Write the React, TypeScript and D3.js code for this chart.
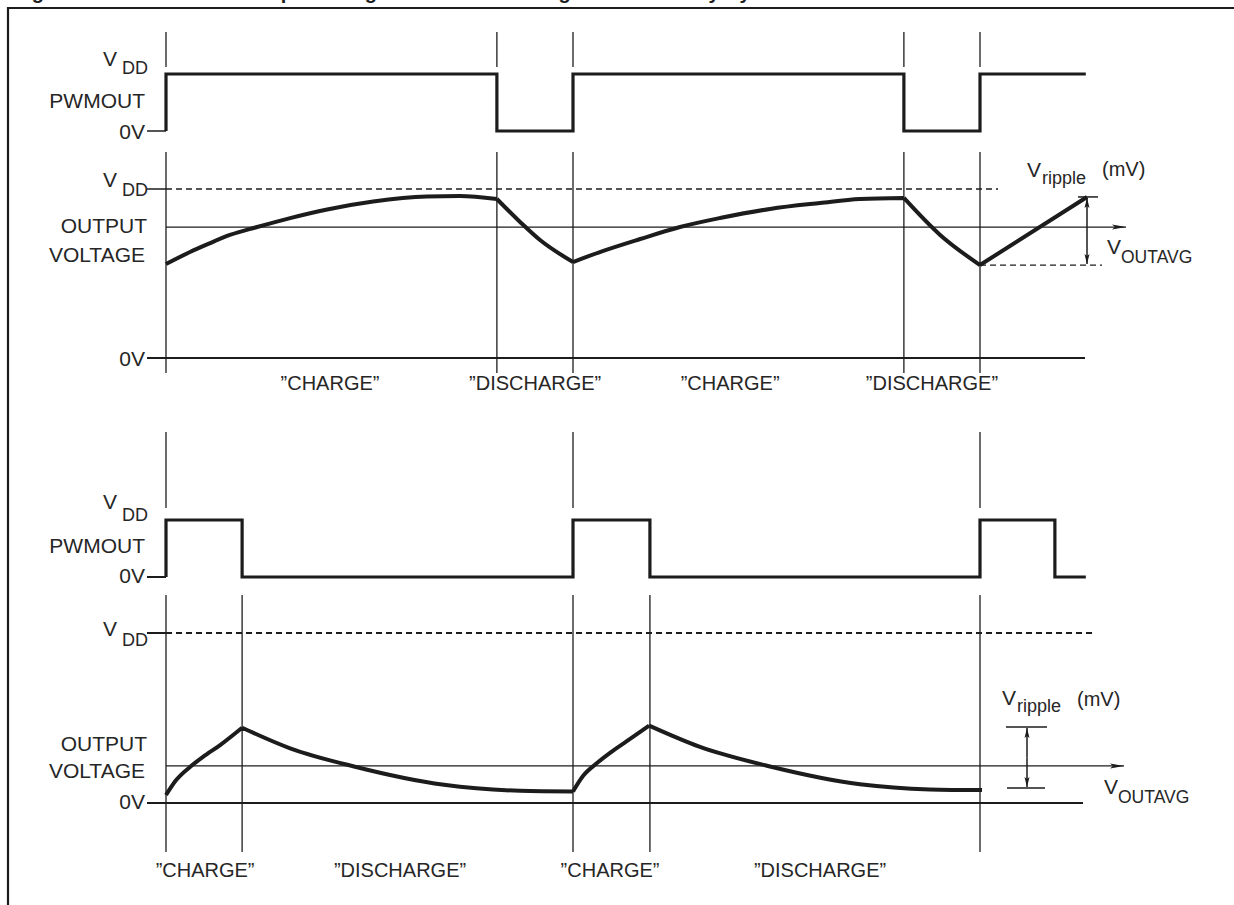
import React from 'react';
import * as d3 from 'd3';

const W = 1234;
const H = 905;

// ---- data (time: one PWM period = 100 units, level: fraction of VDD) ----
const topPwmT = [0, 0, 81.3, 100, 181.3, 200, 226];
const topPwmV = [0, 1, 0, 1, 0, 1, 1];
const botPwmT = [0, 0, 18.7, 100, 118.9, 200, 218.4, 226];
const botPwmV = [0, 1, 0, 1, 0, 1, 0, 0];

const topEdgesT = [0, 81.3, 100, 181.3, 200];
const botPwmTicksT = [0, 100, 200];
const botEdgesT = [0, 18.7, 100, 118.9, 200];

// top output voltage (high duty cycle), one array per charge / discharge phase
const topCharge1 = [[0, 0.556], [5.9, 0.627], [10.1, 0.672], [15.7, 0.728], [22.4, 0.775], [30.5, 0.828], [39.6, 0.879], [50.9, 0.926], [64.1, 0.956], [72.2, 0.959], [81.3, 0.941]];
const topDischarge1 = [[81.3, 0.941], [87.0, 0.805], [91.9, 0.698], [100, 0.568]];
const topCharge2 = [[100, 0.568], [106.6, 0.627], [116.5, 0.704], [126.3, 0.775], [136.1, 0.828], [148.4, 0.882], [160.7, 0.917], [170.5, 0.941], [181.3, 0.947]];
const topDischarge2 = [[181.3, 0.947], [190.2, 0.728], [200, 0.55]];
const topCharge3 = [[200, 0.55], [226.3, 0.953]];

// bottom output voltage (low duty cycle)
const botCharge1 = [[0, 0.047], [2.5, 0.135], [5.9, 0.212], [9.1, 0.271], [13.3, 0.341], [18.7, 0.443]];
const botDischarge1 = [[18.7, 0.443], [30.5, 0.322], [46.2, 0.215], [68.3, 0.107], [87.0, 0.072], [100, 0.068]];
const botCharge2 = [[100, 0.068], [102.5, 0.16], [105.9, 0.235], [109.1, 0.295], [113.3, 0.365], [118.7, 0.455]];
const botDischarge2 = [[118.7, 0.455], [131.2, 0.33], [148.4, 0.215], [170.5, 0.11], [187.7, 0.08], [200.5, 0.076]];

const topAvg = 0.775;
const botAvg = 0.218;
const topRipple = [0.55, 0.953];
const botRipple = [0.088, 0.447];

const topPhaseLabels = ['\u201DCHARGE\u201D', '\u201DDISCHARGE\u201D', '\u201DCHARGE\u201D', '\u201DDISCHARGE\u201D'];
const topPhaseT = [40.3, 90.7, 138.6, 188.2];
const botPhaseLabels = ['\u201DCHARGE\u201D', '\u201DDISCHARGE\u201D', '\u201DCHARGE\u201D', '\u201DDISCHARGE\u201D'];
const botPhaseT = [9.6, 57.5, 109.1, 160.7];

const titleText = 'Figure 10. Filtered PWM Output Voltage Waveforms for High and Low Duty Cycles';

// ---- scales ----
const x = d3.scaleLinear().domain([0, 200]).range([166, 980]);
const yTopPwm = d3.scaleLinear().domain([0, 1]).range([131, 74]);
const yTopOut = d3.scaleLinear().domain([0, 1]).range([358, 189]);
const yBotPwm = d3.scaleLinear().domain([0, 1]).range([577, 520]);
const yBotOut = d3.scaleLinear().domain([0, 1]).range([803, 633]);

const FONT = '"Liberation Sans", Arial, Helvetica, sans-serif';
const INK = '#1c1c1c';
const TXT = '#262626';

function stepPath(ts: number[], vs: number[], y: d3.ScaleLinear<number, number>) {
  const pts = ts.map((t, i) => [t, vs[i]] as [number, number]);
  return d3.line<[number, number]>().x(d => x(d[0])).y(d => y(d[1])).curve(d3.curveStepAfter)(pts) || '';
}

function curvePath(segs: number[][][], y: d3.ScaleLinear<number, number>) {
  const gen = d3.line<number[]>().x(d => x(d[0])).y(d => y(d[1])).curve(d3.curveMonotoneX);
  return segs.map(s => gen(s) || '').join(' ');
}

function VLabel({ xEnd, vy, sub, dy, size = 21, subSize = 18 }: any) {
  return (
    <g fontFamily={FONT} fill={TXT}>
      <text x={xEnd - 44} y={vy} fontSize={size}>V</text>
      <text x={xEnd - 25} y={vy + dy} fontSize={subSize}>{sub}</text>
    </g>
  );
}

export default function App() {
  const tx = (t: number) => x(t);
  return (
    <svg width={W} height={H} viewBox={`0 0 ${W} ${H}`}
      style={{ position: 'absolute', left: 0, top: 0, background: '#fff' }}>
      <defs>
        <marker id="arrAvg" viewBox="0 0 14 6" refX="14" refY="3" markerWidth="14" markerHeight="6"
          markerUnits="userSpaceOnUse" orient="auto">
          <path d="M0,0.5 L14,3 L0,5.5 L3,3 Z" fill={INK} />
        </marker>
        <marker id="arrSmall" viewBox="0 0 10 6" refX="10" refY="3" markerWidth="10" markerHeight="6"
          markerUnits="userSpaceOnUse" orient="auto">
          <path d="M0,0.5 L10,3 L0,5.5 L2,3 Z" fill={INK} />
        </marker>
      </defs>
      <rect x={0} y={0} width={W} height={H} fill="#fff" />

      {/* title (cut off at the top, as in the source) and frame */}
      <text x={14} y={-1.5} fontFamily={FONT} fontWeight="bold" fontSize={20} fill={INK}>{titleText}</text>
      <line x1={8} y1={8} x2={W} y2={8} stroke={INK} strokeWidth={2.2} />
      <line x1={8} y1={7} x2={8} y2={H} stroke={INK} strokeWidth={2.2} />

      {/* ================= TOP: high duty cycle ================= */}
      {topEdgesT.map((t, i) => (
        <line key={'tt' + i} x1={tx(t)} x2={tx(t)} y1={32} y2={67} stroke={INK} strokeWidth={1.3} />
      ))}
      <line x1={147} x2={x(0)} y1={yTopPwm(0)} y2={yTopPwm(0)} stroke={INK} strokeWidth={1.5} />
      <path d={stepPath(topPwmT, topPwmV, yTopPwm)} fill="none" stroke={INK} strokeWidth={3.2} strokeLinejoin="miter" />

      {topEdgesT.map((t, i) => (
        <line key={'to' + i} x1={tx(t)} x2={tx(t)} y1={152} y2={373} stroke={INK} strokeWidth={1.3} />
      ))}
      <line x1={147} x2={x(0)} y1={yTopOut(1)} y2={yTopOut(1)} stroke={INK} strokeWidth={1.5} />
      <line x1={x(0)} x2={998} y1={yTopOut(1)} y2={yTopOut(1)} stroke={INK} strokeWidth={1.3} strokeDasharray="6 4" />
      <line x1={x(0)} x2={1126} y1={yTopOut(topAvg)} y2={yTopOut(topAvg)} stroke={INK} strokeWidth={1.3} markerEnd="url(#arrAvg)" />
      <line x1={147} x2={1085} y1={yTopOut(0)} y2={yTopOut(0)} stroke={INK} strokeWidth={2.2} />
      <line x1={x(200)} x2={1102} y1={yTopOut(topRipple[0])} y2={yTopOut(topRipple[0])} stroke={INK} strokeWidth={1.3} strokeDasharray="6 4" />
      <line x1={1078} x2={1098} y1={yTopOut(topRipple[1])} y2={yTopOut(topRipple[1])} stroke={INK} strokeWidth={1.5} />
      <line x1={1087} x2={1087} y1={(yTopOut(topRipple[0]) + yTopOut(topRipple[1])) / 2} y2={yTopOut(topRipple[1]) + 1}
        stroke={INK} strokeWidth={1.5} markerEnd="url(#arrSmall)" />
      <line x1={1087} x2={1087} y1={(yTopOut(topRipple[0]) + yTopOut(topRipple[1])) / 2} y2={yTopOut(topRipple[0]) - 1}
        stroke={INK} strokeWidth={1.5} markerEnd="url(#arrSmall)" />
      <path d={curvePath([topCharge1, topDischarge1, topCharge2, topDischarge2, topCharge3], yTopOut)}
        fill="none" stroke={INK} strokeWidth={4} strokeLinejoin="round" strokeLinecap="butt" />

      {/* top labels */}
      <g fontFamily={FONT} fill={TXT} fontSize={21} textAnchor="end">
        <text x={145} y={108}>PWMOUT</text>
        <text x={145} y={139}>0V</text>
        <text x={147} y={233}>OUTPUT</text>
        <text x={145} y={262}>VOLTAGE</text>
        <text x={145} y={366}>0V</text>
      </g>
      <VLabel xEnd={147} vy={66} sub="DD" dy={8} />
      <VLabel xEnd={147} vy={187} sub="DD" dy={9} />
      <g fontFamily={FONT} fill={TXT}>
        <text x={1027} y={177} fontSize={21}>V</text>
        <text x={1042} y={184} fontSize={18}>ripple</text>
        <text x={1102} y={176} fontSize={20}>(mV)</text>
        <text x={1107} y={254} fontSize={21}>V</text>
        <text x={1121} y={263} fontSize={17.5}>OUTAVG</text>
      </g>
      <g fontFamily={FONT} fill={TXT} fontSize={20} textAnchor="middle">
        {topPhaseLabels.map((s, i) => (
          <text key={'tl' + i} x={tx(topPhaseT[i])} y={390}>{s}</text>
        ))}
      </g>

      {/* ================= BOTTOM: low duty cycle ================= */}
      {botPwmTicksT.map((t, i) => (
        <line key={'bt' + i} x1={tx(t)} x2={tx(t)} y1={432} y2={508} stroke={INK} strokeWidth={1.3} />
      ))}
      <line x1={147} x2={x(0)} y1={yBotPwm(0)} y2={yBotPwm(0)} stroke={INK} strokeWidth={2} />
      <path d={stepPath(botPwmT, botPwmV, yBotPwm)} fill="none" stroke={INK} strokeWidth={3.2} strokeLinejoin="miter" />

      {botEdgesT.map((t, i) => (
        <line key={'bo' + i} x1={tx(t)} x2={tx(t)} y1={595} y2={852} stroke={INK} strokeWidth={1.3} />
      ))}
      <line x1={147} x2={x(0)} y1={yBotOut(1)} y2={yBotOut(1)} stroke={INK} strokeWidth={2} />
      <line x1={x(0)} x2={1095} y1={yBotOut(1)} y2={yBotOut(1)} stroke={INK} strokeWidth={2.2} strokeDasharray="6 4" />
      <line x1={x(0)} x2={1124} y1={yBotOut(botAvg)} y2={yBotOut(botAvg)} stroke={INK} strokeWidth={1.3} markerEnd="url(#arrAvg)" />
      <line x1={147} x2={1083} y1={yBotOut(0)} y2={yBotOut(0)} stroke={INK} strokeWidth={2} />
      <line x1={1006} x2={1047} y1={yBotOut(botRipple[1])} y2={yBotOut(botRipple[1])} stroke={INK} strokeWidth={1.6} />
      <line x1={1007} x2={1045} y1={yBotOut(botRipple[0])} y2={yBotOut(botRipple[0])} stroke={INK} strokeWidth={1.6} />
      <line x1={1027} x2={1027} y1={(yBotOut(botRipple[0]) + yBotOut(botRipple[1])) / 2} y2={yBotOut(botRipple[1]) + 1}
        stroke={INK} strokeWidth={1.5} markerEnd="url(#arrSmall)" />
      <line x1={1027} x2={1027} y1={(yBotOut(botRipple[0]) + yBotOut(botRipple[1])) / 2} y2={yBotOut(botRipple[0]) - 1}
        stroke={INK} strokeWidth={1.5} markerEnd="url(#arrSmall)" />
      <path d={curvePath([botCharge1, botDischarge1, botCharge2, botDischarge2], yBotOut)}
        fill="none" stroke={INK} strokeWidth={4} strokeLinejoin="round" strokeLinecap="butt" />

      {/* bottom labels */}
      <g fontFamily={FONT} fill={TXT} fontSize={21} textAnchor="end">
        <text x={145} y={553}>PWMOUT</text>
        <text x={145} y={583}>0V</text>
        <text x={147} y={751}>OUTPUT</text>
        <text x={145} y={778}>VOLTAGE</text>
        <text x={145} y={809}>0V</text>
      </g>
      <VLabel xEnd={147} vy={509} sub="DD" dy={12} />
      <VLabel xEnd={147} vy={636} sub="DD" dy={10} />
      <g fontFamily={FONT} fill={TXT}>
        <text x={1002} y={705} fontSize={21}>V</text>
        <text x={1017} y={712} fontSize={18}>ripple</text>
        <text x={1077} y={706} fontSize={20}>(mV)</text>
        <text x={1104} y={794} fontSize={21}>V</text>
        <text x={1118} y={803} fontSize={17.5}>OUTAVG</text>
      </g>
      <g fontFamily={FONT} fill={TXT} fontSize={20} textAnchor="middle">
        {botPhaseLabels.map((s, i) => (
          <text key={'bl' + i} x={tx(botPhaseT[i])} y={877}>{s}</text>
        ))}
      </g>
    </svg>
  );
}
